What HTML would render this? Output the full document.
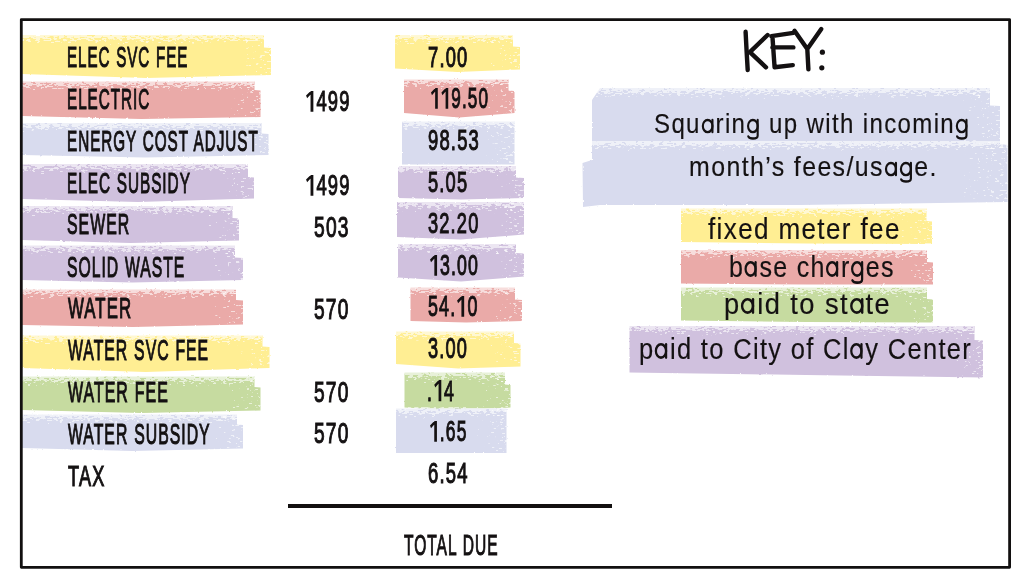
<!DOCTYPE html>
<html><head><meta charset="utf-8"><style>
html,body{margin:0;padding:0;background:#fff;}
body{width:1024px;height:587px;position:relative;overflow:hidden;font-family:"Liberation Sans",sans-serif;}
.t{position:absolute;white-space:nowrap;transform-origin:0 0;color:#141112;}
.frame{position:absolute;left:19.9px;top:18.2px;width:991.1px;height:549.8px;box-sizing:border-box;border:2.75px solid #121010;}
.line{position:absolute;left:288px;top:504.2px;width:324px;height:4px;background:#121010;}
#wrap>svg{position:absolute;left:0;top:0;}
</style></head><body>
<div id="wrap" style="position:absolute;left:0;top:0;width:1024px;height:587px;filter:blur(0.3px)">
<svg width="1024" height="587" viewBox="0 0 1024 587">
<defs>
<filter id="rough" x="-2%" y="-20%" width="104%" height="140%">
<feTurbulence type="fractalNoise" baseFrequency="0.35" numOctaves="2" seed="4" result="n"/>
<feDisplacementMap in="SourceGraphic" in2="n" scale="2" xChannelSelector="R" yChannelSelector="G"/>
</filter>
<filter id="spk" x="0" y="0" width="1" height="1" color-interpolation-filters="sRGB">
<feTurbulence type="fractalNoise" baseFrequency="0.22 0.6" numOctaves="2" seed="9" result="n"/>
<feColorMatrix in="n" type="matrix" values="0 0 0 0 1  0 0 0 0 1  0 0 0 0 1  1 0 0 0 0" result="na"/>
<feComposite in="na" in2="SourceGraphic" operator="arithmetic" k1="0" k2="20" k3="10" k4="-15" result="c"/>
<feColorMatrix in="c" type="matrix" values="0 0 0 0 1  0 0 0 0 1  0 0 0 0 1  0 0 0 0.6 0"/>
<feGaussianBlur stdDeviation="0.45"/>
</filter>
<linearGradient id="gt" x1="0" y1="0" x2="0" y2="1">
<stop offset="0" stop-color="#fff" stop-opacity="1"/><stop offset="1" stop-color="#fff" stop-opacity="0"/>
</linearGradient>
<linearGradient id="gr" x1="0" y1="0" x2="1" y2="0">
<stop offset="0" stop-color="#fff" stop-opacity="0"/><stop offset="1" stop-color="#fff" stop-opacity="0.3"/>
</linearGradient>
</defs>
<g filter="url(#rough)">
<polygon fill="#FFEE93" points="22.0,35.0 264.0,35.0 264.0,47.5 271.0,48.0 271.0,75.0 146.5,78.0 22.0,74.0"/>
<polygon fill="#EAAAA8" points="22.0,81.5 254.5,81.5 254.5,90.0 260.5,90.5 260.5,117.0 141.2,119.0 22.0,116.0"/>
<polygon fill="#D8DBEE" points="22.0,123.0 261.5,123.0 261.5,133.5 268.5,134.0 268.5,155.0 145.2,157.5 22.0,155.0"/>
<polygon fill="#D0C1DE" points="22.0,164.0 248.0,164.0 248.0,177.0 254.0,177.5 254.0,198.5 138.0,202.0 22.0,199.0"/>
<polygon fill="#D0C1DE" points="22.0,206.0 232.5,206.0 232.5,218.0 239.0,218.5 239.0,240.5 130.5,243.0 22.0,240.0"/>
<polygon fill="#D0C1DE" points="22.0,245.5 235.0,245.5 235.0,257.5 243.0,258.0 243.0,280.0 132.5,282.5 22.0,280.0"/>
<polygon fill="#EAAAA8" points="22.0,289.5 236.0,289.5 236.0,300.0 243.0,300.5 243.0,324.5 132.5,327.0 22.0,325.0"/>
<polygon fill="#FFEE93" points="22.0,335.5 262.5,335.5 262.5,346.5 269.5,347.0 269.5,368.0 145.8,372.0 22.0,368.0"/>
<polygon fill="#C6DBA0" points="22.0,376.5 254.5,376.5 254.5,387.0 260.5,387.5 260.5,410.5 141.2,413.0 22.0,410.0"/>
<polygon fill="#D8DBEE" points="22.0,414.5 237.0,414.5 237.0,424.5 243.0,425.0 243.0,448.5 132.5,451.0 22.0,448.0"/>
<polygon fill="#FFEE93" points="395.0,35.0 513.0,35.0 513.0,46.5 520.0,47.0 520.0,69.5 457.5,72.0 395.0,68.5"/>
<polygon fill="#EAAAA8" points="404.0,79.5 508.5,79.5 508.5,90.5 514.5,91.0 514.5,113.0 459.2,117.5 404.0,113.0"/>
<polygon fill="#D8DBEE" points="402.0,121.5 514.5,121.5 514.5,121.5 514.5,122.0 514.5,164.5 458.2,164.5 402.0,164.5"/>
<polygon fill="#D0C1DE" points="398.0,166.0 516.0,166.0 516.0,177.5 524.0,178.0 524.0,198.0 461.0,199.5 398.0,198.0"/>
<polygon fill="#D0C1DE" points="397.0,202.0 524.0,202.0 524.0,202.0 524.0,202.5 524.0,234.5 460.5,239.5 397.0,237.0"/>
<polygon fill="#D0C1DE" points="398.0,244.0 516.0,244.0 516.0,253.0 524.0,253.5 524.0,276.5 461.0,281.5 398.0,277.5"/>
<polygon fill="#EAAAA8" points="410.5,287.5 515.0,287.5 515.0,299.5 522.0,300.0 522.0,321.0 466.2,322.5 410.5,321.0"/>
<polygon fill="#FFEE93" points="396.0,331.5 514.0,331.5 514.0,343.0 520.5,343.5 520.5,366.5 458.2,368.5 396.0,364.0"/>
<polygon fill="#C6DBA0" points="404.5,372.5 505.0,372.5 505.0,384.5 510.5,385.0 510.5,407.5 457.5,410.5 404.5,407.5"/>
<polygon fill="#D8DBEE" points="396.0,408.5 506.5,408.5 506.5,408.5 506.5,409.0 506.5,453.0 451.2,453.0 396.0,453.0"/>
<polygon fill="#FFEE93" points="681.0,208.5 926.5,208.5 926.5,221.0 932.0,221.5 932.0,244.0 806.5,243.5 681.0,242.0"/>
<polygon fill="#EAAAA8" points="681.0,250.0 927.0,250.0 927.0,262.0 933.0,262.5 933.0,284.5 807.0,284.5 681.0,283.5"/>
<polygon fill="#C6DBA0" points="681.0,287.5 927.0,287.5 927.0,299.0 933.0,299.5 933.0,322.5 807.0,322.0 681.0,320.5"/>
<polygon fill="#D0C1DE" points="629.5,326.0 974.5,326.0 974.5,340.0 983.0,340.5 983.0,377.5 806.2,375.0 629.5,372.5"/>
<polygon fill="#D8DBEE" points="600,88 990,88 990,105.5 1000,106 1000,144 1007.5,145 1007.5,202 800,205 600,205 583,207 582.5,163 592,160 592,100"/>
</g>
<g>
<rect x="22" y="34" width="242" height="11" fill="url(#gt)" filter="url(#spk)"/>
<rect x="241" y="35" width="30" height="40" fill="url(#gr)" filter="url(#spk)"/>
<rect x="22" y="80.5" width="232.5" height="11" fill="url(#gt)" filter="url(#spk)"/>
<rect x="230.5" y="81.5" width="30" height="35.5" fill="url(#gr)" filter="url(#spk)"/>
<rect x="22" y="122" width="239.5" height="11" fill="url(#gt)" filter="url(#spk)"/>
<rect x="238.5" y="123" width="30" height="32" fill="url(#gr)" filter="url(#spk)"/>
<rect x="22" y="163" width="226" height="11" fill="url(#gt)" filter="url(#spk)"/>
<rect x="224" y="164" width="30" height="34.5" fill="url(#gr)" filter="url(#spk)"/>
<rect x="22" y="205" width="210.5" height="11" fill="url(#gt)" filter="url(#spk)"/>
<rect x="209" y="206" width="30" height="34.5" fill="url(#gr)" filter="url(#spk)"/>
<rect x="22" y="244.5" width="213" height="11" fill="url(#gt)" filter="url(#spk)"/>
<rect x="213" y="245.5" width="30" height="34.5" fill="url(#gr)" filter="url(#spk)"/>
<rect x="22" y="288.5" width="214" height="11" fill="url(#gt)" filter="url(#spk)"/>
<rect x="213" y="289.5" width="30" height="35.0" fill="url(#gr)" filter="url(#spk)"/>
<rect x="22" y="334.5" width="240.5" height="11" fill="url(#gt)" filter="url(#spk)"/>
<rect x="239.5" y="335.5" width="30" height="32.5" fill="url(#gr)" filter="url(#spk)"/>
<rect x="22" y="375.5" width="232.5" height="11" fill="url(#gt)" filter="url(#spk)"/>
<rect x="230.5" y="376.5" width="30" height="34.0" fill="url(#gr)" filter="url(#spk)"/>
<rect x="22" y="413.5" width="215" height="11" fill="url(#gt)" filter="url(#spk)"/>
<rect x="213" y="414.5" width="30" height="34.0" fill="url(#gr)" filter="url(#spk)"/>
<rect x="395" y="34" width="118" height="11" fill="url(#gt)" filter="url(#spk)"/>
<rect x="490" y="35" width="30" height="34.5" fill="url(#gr)" filter="url(#spk)"/>
<rect x="404" y="78.5" width="104.5" height="11" fill="url(#gt)" filter="url(#spk)"/>
<rect x="484.5" y="79.5" width="30" height="33.5" fill="url(#gr)" filter="url(#spk)"/>
<rect x="402" y="120.5" width="112.5" height="11" fill="url(#gt)" filter="url(#spk)"/>
<rect x="484.5" y="121.5" width="30" height="43.0" fill="url(#gr)" filter="url(#spk)"/>
<rect x="398" y="165" width="118" height="11" fill="url(#gt)" filter="url(#spk)"/>
<rect x="494" y="166" width="30" height="32" fill="url(#gr)" filter="url(#spk)"/>
<rect x="397" y="201" width="127" height="11" fill="url(#gt)" filter="url(#spk)"/>
<rect x="494" y="202" width="30" height="32.5" fill="url(#gr)" filter="url(#spk)"/>
<rect x="398" y="243" width="118" height="11" fill="url(#gt)" filter="url(#spk)"/>
<rect x="494" y="244" width="30" height="32.5" fill="url(#gr)" filter="url(#spk)"/>
<rect x="410.5" y="286.5" width="104.5" height="11" fill="url(#gt)" filter="url(#spk)"/>
<rect x="492" y="287.5" width="30" height="33.5" fill="url(#gr)" filter="url(#spk)"/>
<rect x="396" y="330.5" width="118" height="11" fill="url(#gt)" filter="url(#spk)"/>
<rect x="490.5" y="331.5" width="30" height="35.0" fill="url(#gr)" filter="url(#spk)"/>
<rect x="404.5" y="371.5" width="100.5" height="11" fill="url(#gt)" filter="url(#spk)"/>
<rect x="480.5" y="372.5" width="30" height="35.0" fill="url(#gr)" filter="url(#spk)"/>
<rect x="396" y="407.5" width="110.5" height="11" fill="url(#gt)" filter="url(#spk)"/>
<rect x="476.5" y="408.5" width="30" height="44.5" fill="url(#gr)" filter="url(#spk)"/>
<rect x="681" y="207.5" width="245.5" height="11" fill="url(#gt)" filter="url(#spk)"/>
<rect x="902" y="208.5" width="30" height="35.5" fill="url(#gr)" filter="url(#spk)"/>
<rect x="681" y="249" width="246" height="11" fill="url(#gt)" filter="url(#spk)"/>
<rect x="903" y="250" width="30" height="34.5" fill="url(#gr)" filter="url(#spk)"/>
<rect x="681" y="286.5" width="246" height="11" fill="url(#gt)" filter="url(#spk)"/>
<rect x="903" y="287.5" width="30" height="35.0" fill="url(#gr)" filter="url(#spk)"/>
<rect x="629.5" y="325" width="345.0" height="11" fill="url(#gt)" filter="url(#spk)"/>
<rect x="953" y="326" width="30" height="51.5" fill="url(#gr)" filter="url(#spk)"/>
<rect x="592" y="87" width="400" height="12" fill="url(#gt)" filter="url(#spk)"/>
<rect x="583" y="141" width="420" height="10" fill="url(#gt)" filter="url(#spk)"/>
<rect x="960" y="88" width="48" height="115" fill="url(#gr)" filter="url(#spk)"/>
</g>
<g fill="none" stroke="#141112" stroke-width="4.4" stroke-linecap="round" stroke-linejoin="round">
<path d="M745.6,31.8 Q746.5,50 747.7,70"/>
<path d="M767.6,35 L749.9,52.2 L766,67.3"/>
<path d="M771.4,36.1 L793.4,32.9 M772.4,36.1 Q773.5,52 774.6,67.3 L792.8,65.1 M772.4,47.4 L793.4,47.4"/>
<path d="M794.5,30.7 L807.3,49 L821.3,29.1 M807.3,49 L808.4,69.4"/>
</g>
<g fill="#141112"><circle cx="822.4" cy="52.2" r="2.6"/><circle cx="821.8" cy="67.8" r="2.6"/></g>
</svg>
<svg width="1024" height="587" style="position:absolute;left:0;top:0"><rect x="21.3" y="19.6" width="988.3" height="547.7" fill="none" stroke="#121010" stroke-width="2.8" stroke-linejoin="round"/></svg>
<div class="line"></div>
<div class="t" style="left:66.63px;top:42.79px;font-weight:400;font-size:31.25px;line-height:31.25px;letter-spacing:2px;word-spacing:1px;-webkit-text-stroke:1.2px currentColor;transform:scale(0.4852,0.9161)">ELEC SVC FEE</div><div class="t" style="left:66.62px;top:85.19px;font-weight:400;font-size:31.25px;line-height:31.25px;letter-spacing:2px;word-spacing:1px;-webkit-text-stroke:1.2px currentColor;transform:scale(0.4880,0.9161)">ELECTRIC</div><div class="t" style="left:66.62px;top:126.89px;font-weight:400;font-size:31.25px;line-height:31.25px;letter-spacing:2px;word-spacing:1px;-webkit-text-stroke:1.2px currentColor;transform:scale(0.4880,0.9161)">ENERGY COST ADJUST</div><div class="t" style="left:66.62px;top:169.19px;font-weight:400;font-size:31.25px;line-height:31.25px;letter-spacing:2px;word-spacing:1px;-webkit-text-stroke:1.2px currentColor;transform:scale(0.4905,0.9161)">ELEC SUBSIDY</div><div class="t" style="left:67.22px;top:210.29px;font-weight:400;font-size:31.25px;line-height:31.25px;letter-spacing:2px;word-spacing:1px;-webkit-text-stroke:1.2px currentColor;transform:scale(0.5080,0.9161)">SEWER</div><div class="t" style="left:67.22px;top:252.59px;font-weight:400;font-size:31.25px;line-height:31.25px;letter-spacing:2px;word-spacing:1px;-webkit-text-stroke:1.2px currentColor;transform:scale(0.5026,0.9161)">SOLID WASTE</div><div class="t" style="left:67.87px;top:293.41px;font-weight:400;font-size:31.25px;line-height:31.25px;letter-spacing:2px;word-spacing:1px;-webkit-text-stroke:1.2px currentColor;transform:scale(0.5373,0.9467)">WATER</div><div class="t" style="left:67.85px;top:336.29px;font-weight:400;font-size:31.25px;line-height:31.25px;letter-spacing:2px;word-spacing:1px;-webkit-text-stroke:1.2px currentColor;transform:scale(0.5045,0.9161)">WATER SVC FEE</div><div class="t" style="left:67.85px;top:376.91px;font-weight:400;font-size:31.25px;line-height:31.25px;letter-spacing:2px;word-spacing:1px;-webkit-text-stroke:1.2px currentColor;transform:scale(0.5095,0.9467)">WATER FEE</div><div class="t" style="left:67.85px;top:420.29px;font-weight:400;font-size:31.25px;line-height:31.25px;letter-spacing:2px;word-spacing:1px;-webkit-text-stroke:1.2px currentColor;transform:scale(0.5053,0.9161)">WATER SUBSIDY</div><div class="t" style="left:67.60px;top:461.21px;font-weight:400;font-size:31.25px;line-height:31.25px;letter-spacing:2px;word-spacing:1px;-webkit-text-stroke:1.2px currentColor;transform:scale(0.5817,0.9467)">TAX</div><div class="t" style="left:304.97px;top:87.34px;font-weight:400;font-size:31.25px;line-height:31.25px;letter-spacing:2px;word-spacing:1px;-webkit-text-stroke:1.2px currentColor;transform:scale(0.5897,0.9161)"><svg width="19.4" height="26.45" style="overflow:visible" viewBox="0 0 19.4 26.45"><path fill="currentColor" d="M9.4,4.35 H14.2 V27.05 H9.4 Z M9.6,4.35 L12.2,6.2 L3.6,12.2 L1.8,9.3 Z"/></svg>499</div><div class="t" style="left:304.97px;top:170.84px;font-weight:400;font-size:31.25px;line-height:31.25px;letter-spacing:2px;word-spacing:1px;-webkit-text-stroke:1.2px currentColor;transform:scale(0.5897,0.9161)"><svg width="19.4" height="26.45" style="overflow:visible" viewBox="0 0 19.4 26.45"><path fill="currentColor" d="M9.4,4.35 H14.2 V27.05 H9.4 Z M9.6,4.35 L12.2,6.2 L3.6,12.2 L1.8,9.3 Z"/></svg>499</div><div class="t" style="left:313.69px;top:212.79px;font-weight:400;font-size:31.25px;line-height:31.25px;letter-spacing:2px;word-spacing:1px;-webkit-text-stroke:1.2px currentColor;transform:scale(0.6155,0.9161)">503</div><div class="t" style="left:313.69px;top:295.19px;font-weight:400;font-size:31.25px;line-height:31.25px;letter-spacing:2px;word-spacing:1px;-webkit-text-stroke:1.2px currentColor;transform:scale(0.6127,0.9161)">570</div><div class="t" style="left:313.69px;top:377.59px;font-weight:400;font-size:31.25px;line-height:31.25px;letter-spacing:2px;word-spacing:1px;-webkit-text-stroke:1.2px currentColor;transform:scale(0.6127,0.9161)">570</div><div class="t" style="left:313.69px;top:419.29px;font-weight:400;font-size:31.25px;line-height:31.25px;letter-spacing:2px;word-spacing:1px;-webkit-text-stroke:1.2px currentColor;transform:scale(0.6127,0.9161)">570</div><div class="t" style="left:428.01px;top:42.99px;font-weight:400;font-size:31.25px;line-height:31.25px;letter-spacing:2px;word-spacing:1px;-webkit-text-stroke:1.2px currentColor;transform:scale(0.5870,0.9161)">7.00</div><div class="t" style="left:429.54px;top:83.74px;font-weight:400;font-size:31.25px;line-height:31.25px;letter-spacing:2px;word-spacing:1px;-webkit-text-stroke:1.2px currentColor;transform:scale(0.5492,0.9161)"><svg width="19.4" height="26.45" style="overflow:visible" viewBox="0 0 19.4 26.45"><path fill="currentColor" d="M9.4,4.35 H14.2 V27.05 H9.4 Z M9.6,4.35 L12.2,6.2 L3.6,12.2 L1.8,9.3 Z"/></svg><svg width="19.4" height="26.45" style="overflow:visible" viewBox="0 0 19.4 26.45"><path fill="currentColor" d="M9.4,4.35 H14.2 V27.05 H9.4 Z M9.6,4.35 L12.2,6.2 L3.6,12.2 L1.8,9.3 Z"/></svg>9.50</div><div class="t" style="left:428.16px;top:126.19px;font-weight:400;font-size:31.25px;line-height:31.25px;letter-spacing:2px;word-spacing:1px;-webkit-text-stroke:1.2px currentColor;transform:scale(0.5900,0.9161)">98.53</div><div class="t" style="left:428.31px;top:168.19px;font-weight:400;font-size:31.25px;line-height:31.25px;letter-spacing:2px;word-spacing:1px;-webkit-text-stroke:1.2px currentColor;transform:scale(0.5847,0.9161)">5.05</div><div class="t" style="left:428.31px;top:209.39px;font-weight:400;font-size:31.25px;line-height:31.25px;letter-spacing:2px;word-spacing:1px;-webkit-text-stroke:1.2px currentColor;transform:scale(0.5835,0.9161)">32.20</div><div class="t" style="left:428.81px;top:250.94px;font-weight:400;font-size:31.25px;line-height:31.25px;letter-spacing:2px;word-spacing:1px;-webkit-text-stroke:1.2px currentColor;transform:scale(0.5684,0.9161)"><svg width="19.4" height="26.45" style="overflow:visible" viewBox="0 0 19.4 26.45"><path fill="currentColor" d="M9.4,4.35 H14.2 V27.05 H9.4 Z M9.6,4.35 L12.2,6.2 L3.6,12.2 L1.8,9.3 Z"/></svg>3.00</div><div class="t" style="left:428.31px;top:292.24px;font-weight:400;font-size:31.25px;line-height:31.25px;letter-spacing:2px;word-spacing:1px;-webkit-text-stroke:1.2px currentColor;transform:scale(0.5724,0.9161)">54.<svg width="19.4" height="26.45" style="overflow:visible" viewBox="0 0 19.4 26.45"><path fill="currentColor" d="M9.4,4.35 H14.2 V27.05 H9.4 Z M9.6,4.35 L12.2,6.2 L3.6,12.2 L1.8,9.3 Z"/></svg>0</div><div class="t" style="left:428.31px;top:334.29px;font-weight:400;font-size:31.25px;line-height:31.25px;letter-spacing:2px;word-spacing:1px;-webkit-text-stroke:1.2px currentColor;transform:scale(0.5825,0.9161)">3.00</div><div class="t" style="left:427.32px;top:375.52px;font-weight:400;font-size:31.25px;line-height:31.25px;letter-spacing:2px;word-spacing:1px;-webkit-text-stroke:1.2px currentColor;transform:scale(0.5676,0.9363)">.<svg width="19.4" height="26.45" style="overflow:visible" viewBox="0 0 19.4 26.45"><path fill="currentColor" d="M9.4,4.35 H14.2 V27.05 H9.4 Z M9.6,4.35 L12.2,6.2 L3.6,12.2 L1.8,9.3 Z"/></svg>4</div><div class="t" style="left:428.82px;top:417.44px;font-weight:400;font-size:31.25px;line-height:31.25px;letter-spacing:2px;word-spacing:1px;-webkit-text-stroke:1.2px currentColor;transform:scale(0.5588,0.9161)"><svg width="19.4" height="26.45" style="overflow:visible" viewBox="0 0 19.4 26.45"><path fill="currentColor" d="M9.4,4.35 H14.2 V27.05 H9.4 Z M9.6,4.35 L12.2,6.2 L3.6,12.2 L1.8,9.3 Z"/></svg>.65</div><div class="t" style="left:428.01px;top:458.69px;font-weight:400;font-size:31.25px;line-height:31.25px;letter-spacing:2px;word-spacing:1px;-webkit-text-stroke:1.2px currentColor;transform:scale(0.5908,0.9161)">6.54</div><div class="t" style="left:403.80px;top:530.99px;font-weight:400;font-size:31.25px;line-height:31.25px;letter-spacing:2px;word-spacing:1px;-webkit-text-stroke:1.2px currentColor;transform:scale(0.4971,0.9161)">TOTAL DUE</div><div class="t" style="left:654.04px;top:110.42px;font-weight:400;font-size:25px;line-height:25px;letter-spacing:1.4px;word-spacing:0px;-webkit-text-stroke:0.15px currentColor;transform:scale(0.9622,1.1000)">Squ<svg width="15.30" height="13.20" style="overflow:visible" viewBox="0 0 15.30 13.20"><g fill="none" stroke="currentColor" stroke-width="2.20" stroke-linecap="round"><ellipse cx="6.75" cy="6.60" rx="5.00" ry="5.50"/><path d="M11.75,1.10 V12.10"/></g></svg>rin<svg width="15.30" height="13.20" style="overflow:visible" viewBox="0 0 15.30 13.20"><g fill="none" stroke="currentColor" stroke-width="2.20" stroke-linecap="round"><ellipse cx="6.75" cy="6.60" rx="5.00" ry="5.50"/><path d="M11.75,1.10 V15.34 Q11.75,17.95 6.75,17.95 Q3.00,17.95 2.00,16.05"/></g></svg> up with incomin<svg width="15.30" height="13.20" style="overflow:visible" viewBox="0 0 15.30 13.20"><g fill="none" stroke="currentColor" stroke-width="2.20" stroke-linecap="round"><ellipse cx="6.75" cy="6.60" rx="5.00" ry="5.50"/><path d="M11.75,1.10 V15.34 Q11.75,17.95 6.75,17.95 Q3.00,17.95 2.00,16.05"/></g></svg></div><div class="t" style="left:689.11px;top:153.22px;font-weight:400;font-size:25px;line-height:25px;letter-spacing:1.4px;word-spacing:0px;-webkit-text-stroke:0.15px currentColor;transform:scale(0.9961,1.1000)">month&#8217;s fees/us<svg width="15.30" height="13.20" style="overflow:visible" viewBox="0 0 15.30 13.20"><g fill="none" stroke="currentColor" stroke-width="2.20" stroke-linecap="round"><ellipse cx="6.75" cy="6.60" rx="5.00" ry="5.50"/><path d="M11.75,1.10 V12.10"/></g></svg><svg width="15.30" height="13.20" style="overflow:visible" viewBox="0 0 15.30 13.20"><g fill="none" stroke="currentColor" stroke-width="2.20" stroke-linecap="round"><ellipse cx="6.75" cy="6.60" rx="5.00" ry="5.50"/><path d="M11.75,1.10 V15.34 Q11.75,17.95 6.75,17.95 Q3.00,17.95 2.00,16.05"/></g></svg>e.</div><div class="t" style="left:708.06px;top:214.00px;font-weight:400;font-size:27px;line-height:27px;letter-spacing:1.4px;word-spacing:0px;-webkit-text-stroke:0.15px currentColor;transform:scale(0.9657,1.1200)">fixed meter fee</div><div class="t" style="left:729.38px;top:251.80px;font-weight:400;font-size:27px;line-height:27px;letter-spacing:1.4px;word-spacing:0px;-webkit-text-stroke:0.15px currentColor;transform:scale(0.9265,1.1200)">b<svg width="16.41" height="14.26" style="overflow:visible" viewBox="0 0 16.41 14.26"><g fill="none" stroke="currentColor" stroke-width="2.38" stroke-linecap="round"><ellipse cx="7.29" cy="7.13" rx="5.40" ry="5.94"/><path d="M12.69,1.19 V13.07"/></g></svg>se ch<svg width="16.41" height="14.26" style="overflow:visible" viewBox="0 0 16.41 14.26"><g fill="none" stroke="currentColor" stroke-width="2.38" stroke-linecap="round"><ellipse cx="7.29" cy="7.13" rx="5.40" ry="5.94"/><path d="M12.69,1.19 V13.07"/></g></svg>r<svg width="16.41" height="14.26" style="overflow:visible" viewBox="0 0 16.41 14.26"><g fill="none" stroke="currentColor" stroke-width="2.38" stroke-linecap="round"><ellipse cx="7.29" cy="7.13" rx="5.40" ry="5.94"/><path d="M12.69,1.19 V16.56 Q12.69,19.39 7.29,19.39 Q3.24,19.39 2.16,17.33"/></g></svg>es</div><div class="t" style="left:724.23px;top:288.80px;font-weight:400;font-size:27px;line-height:27px;letter-spacing:1.4px;word-spacing:0px;-webkit-text-stroke:0.15px currentColor;transform:scale(1.0112,1.1200)">p<svg width="16.41" height="14.26" style="overflow:visible" viewBox="0 0 16.41 14.26"><g fill="none" stroke="currentColor" stroke-width="2.38" stroke-linecap="round"><ellipse cx="7.29" cy="7.13" rx="5.40" ry="5.94"/><path d="M12.69,1.19 V13.07"/></g></svg>id to st<svg width="16.41" height="14.26" style="overflow:visible" viewBox="0 0 16.41 14.26"><g fill="none" stroke="currentColor" stroke-width="2.38" stroke-linecap="round"><ellipse cx="7.29" cy="7.13" rx="5.40" ry="5.94"/><path d="M12.69,1.19 V13.07"/></g></svg>te</div><div class="t" style="left:639.05px;top:334.20px;font-weight:400;font-size:27px;line-height:27px;letter-spacing:1.4px;word-spacing:0px;-webkit-text-stroke:0.15px currentColor;transform:scale(0.9439,1.1200)">p<svg width="16.41" height="14.26" style="overflow:visible" viewBox="0 0 16.41 14.26"><g fill="none" stroke="currentColor" stroke-width="2.38" stroke-linecap="round"><ellipse cx="7.29" cy="7.13" rx="5.40" ry="5.94"/><path d="M12.69,1.19 V13.07"/></g></svg>id to City of Cl<svg width="16.41" height="14.26" style="overflow:visible" viewBox="0 0 16.41 14.26"><g fill="none" stroke="currentColor" stroke-width="2.38" stroke-linecap="round"><ellipse cx="7.29" cy="7.13" rx="5.40" ry="5.94"/><path d="M12.69,1.19 V13.07"/></g></svg>y Center</div>
</div>
</body></html>
